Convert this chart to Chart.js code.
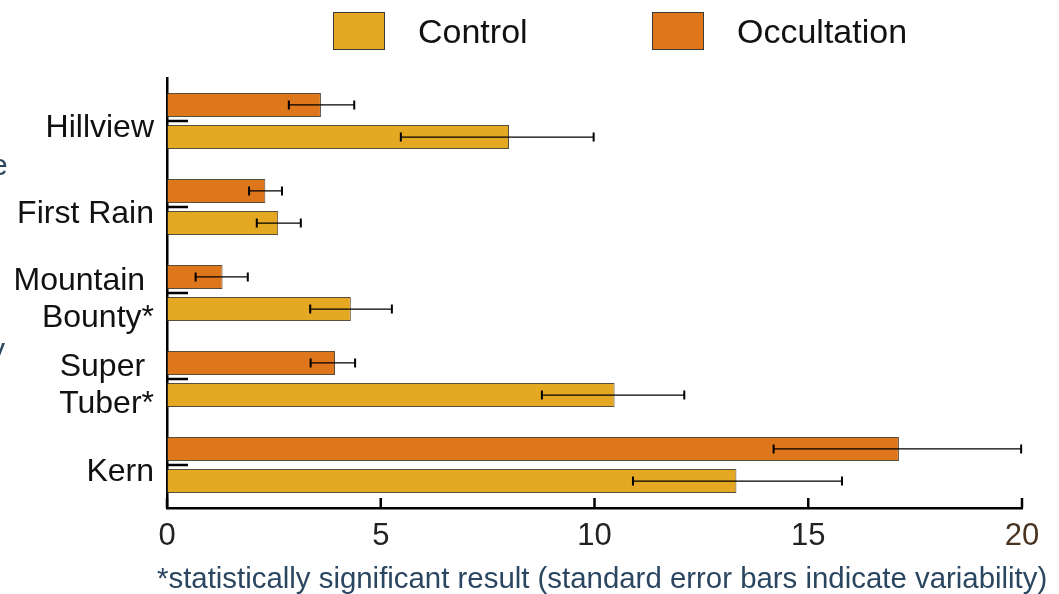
<!DOCTYPE html>
<html>
<head>
<meta charset="utf-8">
<script src="https://cdn.jsdelivr.net/npm/chart.js@4"></script>
<style>
  body { margin: 0; background: #fff; font-family: "Liberation Sans", Arial, sans-serif; }
  #wrap { position: relative; width: 1059px; height: 594px; overflow: hidden; }
  canvas { position: absolute; left: 0; top: 0; }
  .leg { position: absolute; top: 12px; height: 38px; display: flex; align-items: center; font-size: 34px; color: #111; }
  .leg span.box { display: inline-block; width: 52px; height: 38px; border: 1px solid #3a3a3a; box-sizing: border-box; margin-right: 33px; }
  .note { position: absolute; left: 157px; top: 561px; font-size: 29.4px; color: #2b4660; white-space: nowrap; }
  .cut { position: absolute; font-size: 30px; color: #2b4660; }
</style>
</head>
<body>
<div id="wrap">
  <canvas id="c" width="1059" height="594"></canvas>
  <div class="leg" style="left:333px"><span class="box" style="background:#E5A823"></span>Control</div>
  <div class="leg" style="left:652px"><span class="box" style="background:#DE761C"></span>Occultation</div>
  <div class="note">*statistically significant result (standard error bars indicate variability)</div>
  <div class="cut" style="left:-9px; top:148px">e</div>
  <div class="cut" style="left:-10px; top:332px">y</div>
</div>
<script>
// données
const categories = ['Hillview', 'First Rain', ['Mountain ', 'Bounty*'], ['Super ', 'Tuber*'], 'Kern'];
const occultation = [3.6, 2.3, 1.3, 3.93, 17.12];
const occultationLow = [2.85, 1.92, 0.67, 3.36, 14.19];
const occultationHigh = [4.38, 2.69, 1.89, 4.40, 19.98];
const control = [8.0, 2.6, 4.3, 10.47, 13.32];
const controlLow = [5.47, 2.1, 3.35, 8.77, 10.9];
const controlHigh = [9.98, 3.13, 5.26, 12.1, 15.79];
const xTicks = [0, 5, 10, 15, 20];

const lows = [occultationLow, controlLow];
const highs = [occultationHigh, controlHigh];

// barres d'erreur + petits traits à l'intérieur des axes
const extras = {
    id: 'extras',
    afterDatasetsDraw(chart) {
        const ctx = chart.ctx;
        const xs = chart.scales.x;
        const ys = chart.scales.y;
        ctx.save();
        ctx.strokeStyle = '#000';
        chart.data.datasets.forEach((ds, di) => {
            const meta = chart.getDatasetMeta(di);
            meta.data.forEach((bar, i) => {
                const x1 = xs.getPixelForValue(lows[di][i]);
                const x2 = xs.getPixelForValue(highs[di][i]);
                const y = bar.y;
                ctx.lineWidth = 1.3;
                ctx.beginPath();
                ctx.moveTo(x1, y); ctx.lineTo(x2, y);
                ctx.stroke();
                ctx.lineWidth = 2;
                ctx.beginPath();
                ctx.moveTo(x1, y - 4.5); ctx.lineTo(x1, y + 4.5);
                ctx.moveTo(x2, y - 4.5); ctx.lineTo(x2, y + 4.5);
                ctx.stroke();
            });
        });
        // traits des catégories
        ctx.lineWidth = 2.5;
        categories.forEach((c, i) => {
            const y = ys.getPixelForTick(i);
            ctx.beginPath();
            ctx.moveTo(xs.left, y); ctx.lineTo(xs.left + 21, y);
            ctx.stroke();
        });
        // traits de l'axe x vers le haut
        ctx.lineWidth = 2.5;
        xTicks.forEach(t => {
            const x = xs.getPixelForValue(t);
            ctx.beginPath();
            ctx.moveTo(x, ys.bottom); ctx.lineTo(x, ys.bottom - 10);
            ctx.stroke();
        });
        ctx.restore();
    }
};

new Chart(document.getElementById('c'), {
    type: 'bar',
    data: {
        labels: categories,
        datasets: [{
            label: 'Occultation',
            data: occultation,
            backgroundColor: '#DE761C',
            borderColor: 'rgba(60,45,30,0.85)',
            borderWidth: 1,
            borderSkipped: false,
            barPercentage: 0.745,
            categoryPercentage: 0.748
        }, {
            label: 'Control',
            data: control,
            backgroundColor: '#E5A823',
            borderColor: 'rgba(60,45,30,0.85)',
            borderWidth: 1,
            borderSkipped: false,
            barPercentage: 0.745,
            categoryPercentage: 0.748
        }]
    },
    options: {
        indexAxis: 'y',
        responsive: false,
        animation: false,
        layout: { padding: { top: 78, right: 37, left: 0, bottom: 0 } },
        plugins: {
            legend: { display: false },
            tooltip: { enabled: false }
        },
        scales: {
            x: {
                min: 0,
                max: 20,
                afterFit: (s) => { s.height = 86; },
                afterBuildTicks: (s) => { s.ticks = xTicks.map(v => ({ value: v })); },
                grid: { display: false, drawTicks: false },
                border: { display: true, color: '#000', width: 2.5 },
                ticks: {
                    padding: 10,
                    font: { family: 'Liberation Sans', size: 31 },
                    color: (c) => c.tick && c.tick.value === 20 ? '#4a3421' : '#222'
                }
            },
            y: {
                afterFit: (s) => { s.width = 167; },
                grid: { display: false, drawTicks: false },
                border: { display: true, color: '#000', width: 2.5 },
                ticks: {
                    padding: 13,
                    labelOffset: 7,
                    font: { family: 'Liberation Sans', size: 32, lineHeight: 1.16 },
                    color: '#111'
                }
            }
        }
    },
    plugins: [extras]
});
</script>
</body>
</html>
